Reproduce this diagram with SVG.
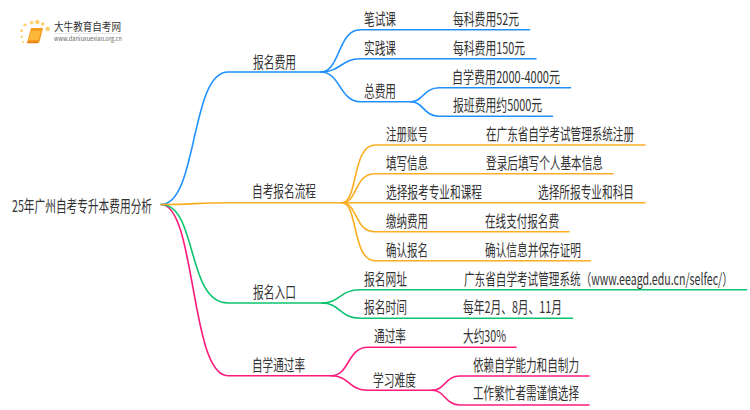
<svg xmlns="http://www.w3.org/2000/svg" width="750" height="410" viewBox="0 0 750 410">
<style>
text{font-family:"Noto Sans CJK SC","Noto Sans",sans-serif;font-size:16px;fill:#333}
.c{fill:none;stroke-width:1.6;stroke-linecap:round}
.b{stroke:#1e90ff}.o{stroke:#fbae22}.g{stroke:#0cc46f}.p{stroke:#ff1a7c}
.d{fill:#fcd06a}
</style>
<rect width="750" height="410" fill="#fff"/>
<g id="connectors">
<path class="c p" d="M161 204.500C196 204.500 190 375.700 228 375.700H331"/>
<path class="c g" d="M161 204.500C198 204.500 186 303 228 303H322"/>
<path class="c b" d="M161 204.500C198 204.500 190 72 228 72H321"/>
<path class="c o" d="M161 204.500C190 204.500 200 202.700 228 202.700H342"/>
<path class="c b" d="M321 72C340 72 338 29.700 360 29.700H529.500"/>
<path class="c b" d="M321 72C340 72 342 58.700 360 58.700H536"/>
<path class="c b" d="M321 72C340 72 340 101.700 360 101.700H411"/>
<path class="c b" d="M411 101.700C423 101.700 424 87.700 439 87.700H570.500"/>
<path class="c b" d="M411 101.700C423 101.700 424 116.300 439 116.300H552.500"/>
<path class="c o" d="M342 202.700C358 202.700 352 145 375 145H645"/>
<path class="c o" d="M342 202.700C358 202.700 354 173.700 375 173.700H613"/>
<path class="c o" d="M342 202.700H645"/>
<path class="c o" d="M342 202.700C358 202.700 354 231.700 375 231.700H569"/>
<path class="c o" d="M342 202.700C358 202.700 352 260.700 375 260.700H590.500"/>
<path class="c g" d="M322 303C340 303 340 289.700 360 289.700H746.500"/>
<path class="c g" d="M322 303C340 303 340 318.300 360 318.300H572.500"/>
<path class="c p" d="M331 375.700C350 375.700 347 347.300 368 347.300H516"/>
<path class="c p" d="M331 375.700C350 375.700 348 390.300 368 390.300H432"/>
<path class="c p" d="M432 390.300C445 390.300 445 376 460 376H589"/>
<path class="c p" d="M432 390.300C445 390.300 445 405 460 405H589"/>
</g>
<g id="logo">
<circle class="d" cx="47.700" cy="29" r="2.200"/><circle class="d" cx="42.700" cy="24" r="1.800"/><circle class="d" cx="37.300" cy="22" r="2.200"/><circle class="d" cx="31.700" cy="22.700" r="1.800"/><circle class="d" cx="25" cy="25" r="1.600"/><circle class="d" cx="21.700" cy="30.700" r="1.400"/><circle class="d" cx="21.700" cy="36.700" r="1.200"/><circle class="d" cx="23" cy="42" r="1.100"/>
<path d="M31 28H43L40 40C39.700 42 39 43 37 43H27Z" fill="#f59a1c"/>
<path d="M31 31H41L38.500 40H28.500Z" fill="#fdb83c"/>
<path d="M27 42.500H38" stroke="#e67e12" stroke-width="1.500" fill="none"/>
<text x="54" y="31" style="font-size:11.500px" textLength="67" lengthAdjust="spacingAndGlyphs">大牛教育自考网</text>
<path d="M54 33.500H121" stroke="#ddd" stroke-width=".7"/>
<text x="54" y="41" style="font-size:6.500px;fill:#666" textLength="68" lengthAdjust="spacingAndGlyphs">www.daniuxuexiao.org.cn</text>
</g>
<g id="root"><text x="12" y="212" textLength="140" lengthAdjust="spacingAndGlyphs">25年广州自考专升本费用分析</text></g>
<g id="n1"><text x="253" y="68" textLength="43" lengthAdjust="spacingAndGlyphs">报名费用</text></g>
<g id="n1a"><text x="364" y="25" textLength="32" lengthAdjust="spacingAndGlyphs">笔试课</text></g>
<g id="n1a1"><text x="453" y="25" textLength="66" lengthAdjust="spacingAndGlyphs">每科费用52元</text></g>
<g id="n1b"><text x="364" y="54" textLength="32" lengthAdjust="spacingAndGlyphs">实践课</text></g>
<g id="n1b1"><text x="453" y="54" textLength="72" lengthAdjust="spacingAndGlyphs">每科费用150元</text></g>
<g id="n1c"><text x="364" y="97" textLength="32" lengthAdjust="spacingAndGlyphs">总费用</text></g>
<g id="n1c1"><text x="452" y="83" textLength="108" lengthAdjust="spacingAndGlyphs">自学费用2000-4000元</text></g>
<g id="n1c2"><text x="453" y="111" textLength="89" lengthAdjust="spacingAndGlyphs">报班费用约5000元</text></g>
<g id="n2"><text x="252" y="197" textLength="64" lengthAdjust="spacingAndGlyphs">自考报名流程</text></g>
<g id="n2a"><text x="386" y="140" textLength="42" lengthAdjust="spacingAndGlyphs">注册账号</text></g>
<g id="n2a1"><text x="486" y="140" textLength="148" lengthAdjust="spacingAndGlyphs">在广东省自学考试管理系统注册</text></g>
<g id="n2b"><text x="386" y="169" textLength="42" lengthAdjust="spacingAndGlyphs">填写信息</text></g>
<g id="n2b1"><text x="486" y="169" textLength="117" lengthAdjust="spacingAndGlyphs">登录后填写个人基本信息</text></g>
<g id="n2c"><text x="386" y="198" textLength="96" lengthAdjust="spacingAndGlyphs">选择报考专业和课程</text></g>
<g id="n2c1"><text x="538" y="198" textLength="96" lengthAdjust="spacingAndGlyphs">选择所报专业和科目</text></g>
<g id="n2d"><text x="386" y="226.500" textLength="42" lengthAdjust="spacingAndGlyphs">缴纳费用</text></g>
<g id="n2d1"><text x="485" y="226.500" textLength="74" lengthAdjust="spacingAndGlyphs">在线支付报名费</text></g>
<g id="n2e"><text x="386" y="255.500" textLength="42" lengthAdjust="spacingAndGlyphs">确认报名</text></g>
<g id="n2e1"><text x="485" y="255.500" textLength="96" lengthAdjust="spacingAndGlyphs">确认信息并保存证明</text></g>
<g id="n3"><text x="253" y="298" textLength="43" lengthAdjust="spacingAndGlyphs">报名入口</text></g>
<g id="n3a"><text x="364" y="285" textLength="43" lengthAdjust="spacingAndGlyphs">报名网址</text></g>
<g id="n3a1"><text transform="translate(464 285) scale(.7 1)" x="0" y="0" textLength="384" lengthAdjust="spacingAndGlyphs">广东省自学考试管理系统（www.eeagd.edu.cn/selfec/）</text></g>
<g id="n3b"><text x="364" y="313" textLength="43" lengthAdjust="spacingAndGlyphs">报名时间</text></g>
<g id="n3b1"><text x="463" y="313" textLength="99" lengthAdjust="spacingAndGlyphs">每年2月、8月、11月</text></g>
<g id="n4"><text x="252" y="371" textLength="53" lengthAdjust="spacingAndGlyphs">自学通过率</text></g>
<g id="n4a"><text x="374" y="342" textLength="32" lengthAdjust="spacingAndGlyphs">通过率</text></g>
<g id="n4a1"><text x="463" y="342" textLength="43" lengthAdjust="spacingAndGlyphs">大约30%</text></g>
<g id="n4b"><text x="373" y="386" textLength="43" lengthAdjust="spacingAndGlyphs">学习难度</text></g>
<g id="n4b1"><text x="473" y="371" textLength="106" lengthAdjust="spacingAndGlyphs">依赖自学能力和自制力</text></g>
<g id="n4b2"><text x="473" y="399" textLength="106" lengthAdjust="spacingAndGlyphs">工作繁忙者需谨慎选择</text></g>
</svg>
